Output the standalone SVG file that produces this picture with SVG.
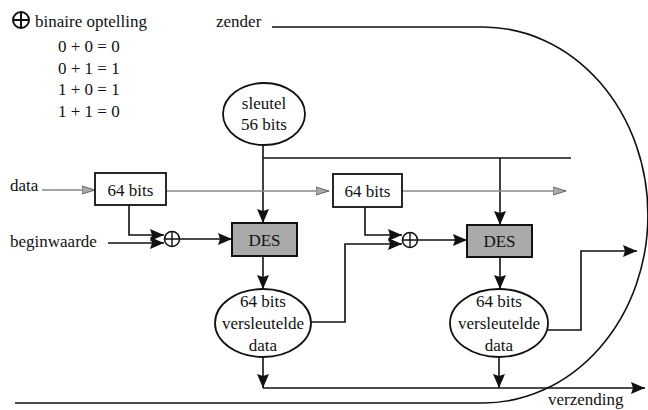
<svg xmlns="http://www.w3.org/2000/svg" width="648" height="410" viewBox="0 0 648 410" font-family="'Liberation Serif', 'Times New Roman', 'DejaVu Serif', serif">
<style>
text{font-family:'Liberation Serif','Times New Roman','DejaVu Serif',serif;font-size:17px;fill:#111}
.c{text-anchor:middle}
.ln{fill:none;stroke:#111;stroke-width:1.6}
.gl{fill:none;stroke:#888;stroke-width:1.4}
.box{fill:#fff;stroke:#111;stroke-width:1.8}
.des{fill:#aaa;stroke:#111;stroke-width:2}
.ell{fill:#fff;stroke:#111;stroke-width:1.8}
.xor{fill:#fff;stroke:#111;stroke-width:1.6}
</style>
<defs>
<marker id="ah" markerUnits="userSpaceOnUse" markerWidth="15" markerHeight="12" refX="14" refY="6" orient="auto">
<path d="M0,0 L14,6 L0,12 L2,6 z" fill="#111"/>
</marker>
<marker id="ag" markerUnits="userSpaceOnUse" markerWidth="14" markerHeight="10" refX="13" refY="5" orient="auto">
<path d="M0,1 L13,5 L0,9 z" fill="#aaa" stroke="#666" stroke-width="1"/>
</marker>
</defs>

<g id="legend">
<circle cx="21" cy="20" r="8" fill="none" stroke="#111" stroke-width="2"/>
<path d="M13,20 H29 M21,12 V28" stroke="#111" stroke-width="2"/>
<text x="35" y="27">binaire optelling</text>
<text x="58" y="52">0 + 0 = 0</text>
<text x="58" y="74">0 + 1 = 1</text>
<text x="58" y="95">1 + 0 = 1</text>
<text x="58" y="117">1 + 1 = 0</text>
</g>

<g id="labels">
<text x="216" y="27">zender</text>
<text x="10" y="191">data</text>
<text x="10" y="247">beginwaarde</text>
<text x="548" y="405">verzending</text>
</g>

<g id="connectors">
<path class="ln" d="M272,27 H483 A165,188 0 0 1 483,403 H15" stroke="#333"/>
<path class="ln" d="M263,145 V223" marker-end="url(#ah)"/>
<path class="ln" d="M263,158 H571"/>
<path class="ln" d="M500,158 V225" marker-end="url(#ah)"/>
<path class="gl" d="M42,190 H95" marker-end="url(#ag)"/>
<path class="gl" d="M166,191 H329" marker-end="url(#ag)"/>
<path class="gl" d="M402,191 H566" marker-end="url(#ag)"/>
<path class="ln" d="M129,205 V235 H164" marker-end="url(#ah)"/>
<path class="ln" d="M108,243 H164" marker-end="url(#ah)"/>
<path class="ln" d="M180,239 H232" marker-end="url(#ah)"/>
<path class="ln" d="M263,256 V289" marker-end="url(#ah)"/>
<path class="ln" d="M311,322 H345 V244 H402" marker-end="url(#ah)"/>
<path class="ln" d="M365,207 V235 H402" marker-end="url(#ah)"/>
<path class="ln" d="M418,240 H467" marker-end="url(#ah)"/>
<path class="ln" d="M500,257 V289" marker-end="url(#ah)"/>
<path class="ln" d="M263,357 V388" marker-end="url(#ah)"/>
<path class="ln" d="M263,388 H645" stroke-width="2" marker-end="url(#ah)"/>
<path class="ln" d="M499,357 V388" marker-end="url(#ah)"/>
<path class="ln" d="M548,330 H581 V251 H637" marker-end="url(#ah)"/>
</g>

<g id="sleutel">
<ellipse class="ell" cx="264" cy="114" rx="41" ry="31"/>
<text class="c" x="264" y="109">sleutel</text>
<text class="c" x="264" y="130">56 bits</text>
</g>

<g id="box1">
<rect class="box" x="95" y="173" width="71" height="32"/>
<text class="c" x="130.5" y="196">64 bits</text>
</g>

<g id="box2">
<rect class="box" x="333" y="174" width="69" height="33"/>
<text class="c" x="367.5" y="197">64 bits</text>
</g>

<g id="xor1">
<circle class="xor" cx="172" cy="239" r="7.5"/>
<path d="M164.5,239 H179.5 M172,231.5 V246.5" stroke="#111" stroke-width="1.4"/>
</g>

<g id="xor2">
<circle class="xor" cx="410" cy="240" r="7.5"/>
<path d="M402.5,240 H417.5 M410,232.5 V247.5" stroke="#111" stroke-width="1.4"/>
</g>

<g id="des1">
<rect class="des" x="232" y="223" width="65" height="33"/>
<text class="c" x="264.5" y="246">DES</text>
</g>

<g id="des2">
<rect class="des" x="467" y="225" width="65" height="32"/>
<text class="c" x="499.5" y="247">DES</text>
</g>

<g id="ell1">
<ellipse class="ell" cx="263" cy="323" rx="48" ry="34"/>
<text class="c" x="263" y="307">64 bits</text>
<text class="c" x="263" y="329">versleutelde</text>
<text class="c" x="263" y="351">data</text>
</g>

<g id="ell2">
<ellipse class="ell" cx="499" cy="323" rx="49" ry="34"/>
<text class="c" x="499" y="307">64 bits</text>
<text class="c" x="499" y="329">versleutelde</text>
<text class="c" x="499" y="351">data</text>
</g>
</svg>
